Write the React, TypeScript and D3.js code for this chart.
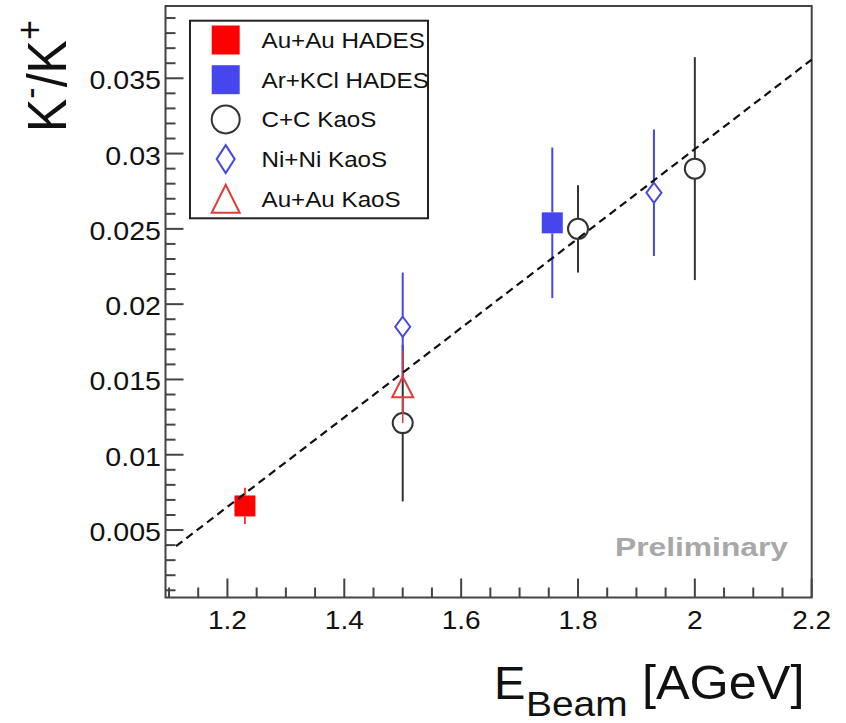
import React from 'react';
import * as d3 from 'd3';

const W = 846;
const H = 723;
const FONT = '"Liberation Sans", Arial, Helvetica, sans-serif';
const STRETCH = 1.1;

// Axes
const X_DOMAIN = [1.094, 2.2];
const Y_DOMAIN = [0.00052, 0.0398];
const X_MAJOR = [1.2, 1.4, 1.6, 1.8, 2.0, 2.2];
const X_LABELS = ['1.2', '1.4', '1.6', '1.8', '2', '2.2'];
const Y_MAJOR = [0.005, 0.01, 0.015, 0.02, 0.025, 0.03, 0.035];
const Y_LABELS = ['0.005', '0.01', '0.015', '0.02', '0.025', '0.03', '0.035'];
const X_MINOR_STEP = 0.05;
const Y_MINOR_STEP = 0.001;

// Measurements: beam energy, K-/K+ ratio, error
const auAuHadesX = [1.23];
const auAuHadesY = [0.0066];
const auAuHadesErr = [0.0012];

const arKclHadesX = [1.756];
const arKclHadesY = [0.0254];
const arKclHadesErr = [0.005];

const ccKaosX = [1.5, 1.8, 2.0];
const ccKaosY = [0.0121, 0.025, 0.0290];
const ccKaosErr = [0.0052, 0.0029, 0.0074];

const niNiKaosX = [1.5, 1.93];
const niNiKaosY = [0.0185, 0.0274];
const niNiKaosErr = [0.0036, 0.0042];

const auAuKaosX = [1.5];
const auAuKaosY = [0.0145];
const auAuKaosErr = [0.0024];

// Linear fit: ratio = slope * E + intercept
const FIT_SLOPE = 0.0297;
const FIT_INTERCEPT = -0.0291;
const FIT_RANGE = [1.112, 2.2];

type Shape = 'square' | 'circle' | 'diamond' | 'triangle';

interface Series {
  name: string;
  xs: number[];
  ys: number[];
  errs: number[];
  shape: Shape;
  color: string;
  filled: boolean;
  barWidth: number;
}

const SERIES: Series[] = [
  { name: 'Au+Au HADES', xs: auAuHadesX, ys: auAuHadesY, errs: auAuHadesErr, shape: 'square', color: '#ff0000', filled: true, barWidth: 1.5 },
  { name: 'Ar+KCl HADES', xs: arKclHadesX, ys: arKclHadesY, errs: arKclHadesErr, shape: 'square', color: '#4646ee', filled: true, barWidth: 2 },
  { name: 'C+C KaoS', xs: ccKaosX, ys: ccKaosY, errs: ccKaosErr, shape: 'circle', color: '#333333', filled: false, barWidth: 2 },
  { name: 'Ni+Ni KaoS', xs: niNiKaosX, ys: niNiKaosY, errs: niNiKaosErr, shape: 'diamond', color: '#4848e0', filled: false, barWidth: 2 },
  { name: 'Au+Au KaoS', xs: auAuKaosX, ys: auAuKaosY, errs: auAuKaosErr, shape: 'triangle', color: '#e03c3c', filled: false, barWidth: 1.5 },
];

const FRAME = { left: 165.5, right: 811.7, top: 6, bottom: 597.5 };

// Marker path centered on its bounding box, half-width hw, half-height hh
function markerPath(shape: Shape, hw: number, hh: number): string {
  const p = d3.path();
  if (shape === 'square') {
    p.rect(-hw, -hh, 2 * hw, 2 * hh);
  } else if (shape === 'circle') {
    p.arc(0, 0, hw, 0, Math.PI * 2);
    p.closePath();
  } else if (shape === 'diamond') {
    p.moveTo(0, -hh);
    p.lineTo(hw, 0);
    p.lineTo(0, hh);
    p.lineTo(-hw, 0);
    p.closePath();
  } else {
    p.moveTo(0, -hh);
    p.lineTo(hw, hh);
    p.lineTo(-hw, hh);
    p.closePath();
  }
  return p.toString();
}

const PLOT_SIZE: Record<Shape, [number, number]> = {
  square: [10.5, 10.5],
  circle: [10, 10],
  diamond: [7.5, 10],
  triangle: [10.5, 10.3],
};
const LEGEND_SIZE: Record<Shape, [number, number]> = {
  square: [14, 14.5],
  circle: [14, 14],
  diamond: [9, 14],
  triangle: [14, 14],
};

function Txt(props: {
  x: number; y: number; size: number; anchor?: string; fill?: string;
  weight?: string; children: React.ReactNode; textLength?: number; stretch?: number;
}) {
  const { x, y, size, anchor = 'start', fill = '#111', weight = 'normal', children, textLength, stretch = STRETCH } = props;
  return (
    <g transform={`translate(${x},${y}) scale(${textLength ? 1 : stretch},1)`}>
      <text
        x={0}
        y={0}
        fontSize={size}
        fontFamily={FONT}
        fontWeight={weight}
        textAnchor={anchor}
        fill={fill}
        textLength={textLength}
        lengthAdjust={textLength ? 'spacingAndGlyphs' : undefined}
      >
        {children}
      </text>
    </g>
  );
}

export default function App() {
  const x = d3.scaleLinear().domain(X_DOMAIN).range([FRAME.left, FRAME.right]);
  const y = d3.scaleLinear().domain(Y_DOMAIN).range([FRAME.bottom, FRAME.top]);

  const xMinor = d3.range(1.1, 2.2 + 1e-9, X_MINOR_STEP).filter(
    (v) => !X_MAJOR.some((m) => Math.abs(m - v) < 1e-6)
  );
  const yMinor = d3.range(0.001, 0.0395, Y_MINOR_STEP).filter(
    (v) => !Y_MAJOR.some((m) => Math.abs(m - v) < 1e-7)
  );

  const fitLine = d3.line<number>()
    .x((e) => x(e))
    .y((e) => y(FIT_SLOPE * e + FIT_INTERCEPT));

  const legend = { x: 190, y: 20.7, w: 238, h: 197.6, rowH: 39.7, markX: 225.7, textX: 261.5 };

  return (
    <svg width={W} height={H} style={{ position: 'absolute', left: 0, top: 0, background: '#fff' }}>
      <rect x={0} y={0} width={W} height={H} fill="#fff" />

      {/* ticks */}
      <g stroke="#444" strokeWidth={2}>
        {X_MAJOR.map((v) => (
          <line key={`xM${v}`} x1={x(v)} x2={x(v)} y1={FRAME.bottom} y2={FRAME.bottom - 19} />
        ))}
        {xMinor.map((v) => (
          <line key={`xm${v}`} x1={x(v)} x2={x(v)} y1={FRAME.bottom} y2={FRAME.bottom - 10} />
        ))}
        {Y_MAJOR.map((v) => (
          <line key={`yM${v}`} x1={FRAME.left} x2={FRAME.left + 18} y1={y(v)} y2={y(v)} />
        ))}
        {yMinor.map((v) => (
          <line key={`ym${v}`} x1={FRAME.left} x2={FRAME.left + 10} y1={y(v)} y2={y(v)} />
        ))}
      </g>

      {/* frame */}
      <rect
        x={FRAME.left}
        y={FRAME.top}
        width={FRAME.right - FRAME.left}
        height={FRAME.bottom - FRAME.top}
        fill="none"
        stroke="#444"
        strokeWidth={2}
      />

      {/* tick labels */}
      {X_MAJOR.map((v, i) => (
        <Txt key={`xl${v}`} x={x(v)} y={628.5} size={25.5} anchor="middle">
          {X_LABELS[i]}
        </Txt>
      ))}
      {Y_MAJOR.map((v, i) => (
        <Txt key={`yl${v}`} x={161} y={y(v) + 11} size={26} anchor="end">
          {Y_LABELS[i]}
        </Txt>
      ))}

      {/* data */}
      {SERIES.map((s) => {
        const [hw, hh] = PLOT_SIZE[s.shape];
        return (
          <g key={s.name}>
            {s.xs.map((xv, i) => {
              const cx = x(xv);
              const cy = y(s.ys[i]);
              const top = y(s.ys[i] + s.errs[i]);
              const bot = y(s.ys[i] - s.errs[i]);
              return (
                <g key={i}>
                  <line x1={cx} x2={cx} y1={top} y2={cy - hh} stroke={s.color} strokeWidth={s.barWidth} />
                  <line x1={cx} x2={cx} y1={cy + hh} y2={bot} stroke={s.color} strokeWidth={s.barWidth} />
                  <path
                    d={markerPath(s.shape, hw, hh)}
                    transform={`translate(${cx},${cy})`}
                    fill={s.filled ? s.color : 'none'}
                    stroke={s.color}
                    strokeWidth={s.filled ? 0 : 2}
                  />
                </g>
              );
            })}
          </g>
        );
      })}

      {/* fit */}
      <path
        d={fitLine(FIT_RANGE) || ''}
        fill="none"
        stroke="#111"
        strokeWidth={2.2}
        strokeDasharray="8,5"
      />

      {/* legend */}
      <rect x={legend.x} y={legend.y} width={legend.w} height={legend.h} fill="#fff" stroke="#222" strokeWidth={2} />
      {SERIES.map((s, i) => {
        const cy = legend.y + 19.3 + i * legend.rowH;
        const [hw, hh] = LEGEND_SIZE[s.shape];
        return (
          <g key={`lg${s.name}`}>
            <path
              d={markerPath(s.shape, hw, hh)}
              transform={`translate(${legend.markX},${cy})`}
              fill={s.filled ? s.color : 'none'}
              stroke={s.color}
              strokeWidth={s.filled ? 0 : 2}
            />
            <Txt x={legend.textX} y={cy + 7.8} size={22}>
              {s.name}
            </Txt>
          </g>
        );
      })}

      <Txt x={615} y={556} size={25} weight="bold" fill="#a8a8a8" textLength={173}>
        Preliminary
      </Txt>

      {/* axis titles */}
      <g transform={`translate(66,132) scale(${STRETCH},1) rotate(-90)`}>
        <text x={0} y={0} fontFamily={FONT} fontSize={50} fill="#111">
          <tspan>K</tspan>
          <tspan fontSize={34} dy={-22}>-</tspan>
          <tspan fontSize={50} dy={22}>/K</tspan>
          <tspan fontSize={34} dy={-22}>+</tspan>
        </text>
      </g>

      <Txt x={494} y={699} size={47} stretch={1}>E</Txt>
      <Txt x={526} y={716} size={36} stretch={1.08}>Beam</Txt>
      <Txt x={642} y={699} size={48} stretch={1.05}>[AGeV]</Txt>
    </svg>
  );
}
